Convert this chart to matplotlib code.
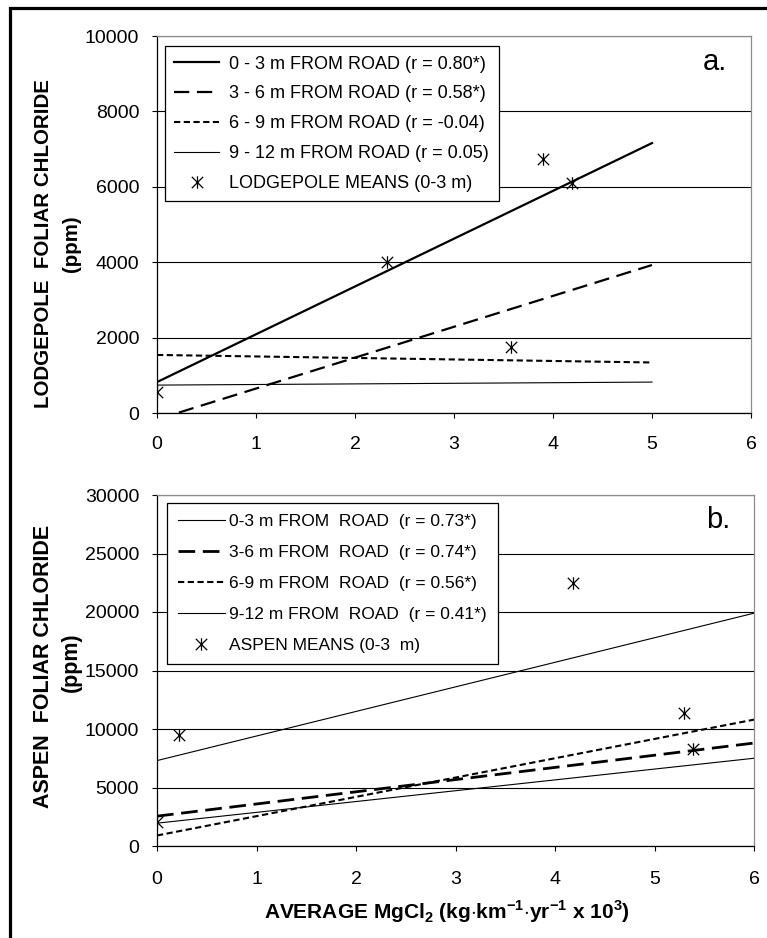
import matplotlib
matplotlib.use("Agg")
import matplotlib.pyplot as plt
from matplotlib.path import Path
from matplotlib.patches import Rectangle

plt.rcParams["font.family"] = ["Liberation Sans", "DejaVu Sans"]
plt.rcParams["mathtext.fontset"] = "custom"
plt.rcParams["mathtext.rm"] = "Liberation Sans"
plt.rcParams["mathtext.bf"] = "Liberation Sans:bold"
plt.rcParams["lines.scale_dashes"] = False
plt.rcParams["xtick.labelsize"] = 14
plt.rcParams["ytick.labelsize"] = 14

# ---- data ----
# panel a: lodgepole pine, trendline end points at x = 0 and x = 5
a_line_x = [0, 5]
a_03 = [820, 7160]
a_36 = [-170, 3925]
a_69 = [1540, 1340]
a_912 = [740, 820]
a_mean_x = [0, 2.32, 3.90, 4.19, 3.58]
a_mean_y = [560, 4000, 6740, 6110, 1740]
a_labels = ["0 - 3 m FROM ROAD (r = 0.80*)",
            "3 - 6 m FROM ROAD (r = 0.58*)",
            "6 - 9 m FROM ROAD (r = -0.04)",
            "9 - 12 m FROM ROAD (r = 0.05)",
            "LODGEPOLE MEANS (0-3 m)"]

# panel b: aspen, trendline end points at x = 0 and x = 6
b_line_x = [0, 6]
b_03 = [7300, 19900]
b_36 = [2550, 8800]
b_69 = [900, 10800]
b_912 = [1950, 7500]
b_mean_x = [0, 0.22, 4.18, 5.30, 5.39]
b_mean_y = [2050, 9450, 22450, 11400, 8250]
b_labels = ["0-3 m FROM  ROAD  (r = 0.73*)",
            "3-6 m FROM  ROAD  (r = 0.74*)",
            "6-9 m FROM  ROAD  (r = 0.56*)",
            "9-12 m FROM  ROAD  (r = 0.41*)",
            "ASPEN MEANS (0-3  m)"]

W, H = 767, 938
fig = plt.figure(figsize=(W / 100, H / 100), dpi=100)

# excel style star marker: X with a vertical bar
STAR = Path([(-1, -1), (1, 1), (-1, 1), (1, -1), (0, -1.1), (0, 1.1)],
            [Path.MOVETO, Path.LINETO, Path.MOVETO, Path.LINETO,
             Path.MOVETO, Path.LINETO])


def px_axes(x0, x1, y0, y1):
    return fig.add_axes([x0 / W, 1 - y1 / H, (x1 - x0) / W, (y1 - y0) / H])


def style_axes(ax, ymax, ystep, xpad):
    ax.set_xlim(0, 6)
    ax.set_ylim(0, ymax)
    ax.set_xticks(range(0, 7))
    ax.set_yticks(range(0, ymax + 1, ystep))
    ax.yaxis.grid(True, color="black", lw=0.8)
    ax.set_axisbelow(True)
    ax.tick_params(axis="both", direction="out", length=3.8, width=0.8,
                   labelsize=14, color="black")
    ax.tick_params(axis="y", pad=9)
    ax.tick_params(axis="x", pad=xpad)
    for s in ("left", "bottom"):
        ax.spines[s].set_color("black")
        ax.spines[s].set_linewidth(0.9)
    for s in ("top", "right"):
        ax.spines[s].set_color("#8c8c8c")
        ax.spines[s].set_linewidth(0.9)


# ---------------- panel a ----------------
ax1 = px_axes(157, 751, 36, 413)
style_axes(ax1, 10000, 2000, 13)
ax1.plot(a_line_x, a_03, color="black", lw=1.6, label=a_labels[0])
ax1.plot(a_line_x, a_36, color="black", lw=1.6, dashes=(11, 5.5), label=a_labels[1])
ax1.plot(a_line_x, a_69, color="black", lw=1.5, dashes=(4.5, 2.5), label=a_labels[2])
ax1.plot(a_line_x, a_912, color="black", lw=0.8, label=a_labels[3])
ax1.plot(a_mean_x, a_mean_y, ls="none", marker=STAR, ms=9, mew=0.9,
         color="black", label=a_labels[4], zorder=5)
leg1 = ax1.legend(loc="upper left", bbox_to_anchor=(0.0135, 0.973),
                  borderaxespad=0, fontsize=13, frameon=True, fancybox=False,
                  edgecolor="black", framealpha=1, handlelength=2.45,
                  handletextpad=0.6, labelspacing=0.71, borderpad=0.52)
leg1.get_frame().set_linewidth(0.9)
ax1.text(0.94, 0.93, "a.", transform=ax1.transAxes, fontsize=21,
         ha="center", va="center")

fig.text(44 / W, 1 - 244 / H, "LODGEPOLE  FOLIAR CHLORIDE", rotation=90,
         ha="center", va="center", fontsize=14.8, fontweight="bold")
fig.text(71 / W, 1 - 244 / H, "(ppm)", rotation=90,
         ha="center", va="center", fontsize=14.8, fontweight="bold")

# ---------------- panel b ----------------
ax2 = px_axes(157, 754, 495, 846)
style_axes(ax2, 30000, 5000, 14)
ax2.plot(b_line_x, b_03, color="black", lw=0.8, label=b_labels[0])
ax2.plot(b_line_x, b_36, color="black", lw=2.0, dashes=(12, 5.5), label=b_labels[1])
ax2.plot(b_line_x, b_69, color="black", lw=1.5, dashes=(4.5, 2.5), label=b_labels[2])
ax2.plot(b_line_x, b_912, color="black", lw=0.8, label=b_labels[3])
ax2.plot(b_mean_x, b_mean_y, ls="none", marker=STAR, ms=9, mew=0.9,
         color="black", label=b_labels[4], zorder=5)
leg2 = ax2.legend(loc="upper left", bbox_to_anchor=(0.017, 0.977),
                  borderaxespad=0, fontsize=12.5, frameon=True, fancybox=False,
                  edgecolor="black", framealpha=1, handlelength=2.7,
                  handletextpad=0.25, labelspacing=0.92, borderpad=0.62)
leg2.get_frame().set_linewidth(0.9)
ax2.text(0.94, 0.93, "b.", transform=ax2.transAxes, fontsize=21,
         ha="center", va="center")

fig.text(44 / W, 1 - 666 / H, "ASPEN  FOLIAR CHLORIDE", rotation=90,
         ha="center", va="center", fontsize=15.5, fontweight="bold")
fig.text(71 / W, 1 - 662 / H, "(ppm)", rotation=90,
         ha="center", va="center", fontsize=15.5, fontweight="bold")

fig.text(447 / W, 1 - 912 / H,
         r"AVERAGE MgCl$_\mathbf{2}$ (kg$\cdot$km$^\mathbf{-1}$$\cdot$yr$^\mathbf{-1}$ x 10$^\mathbf{3}$)",
         ha="center", va="center", fontsize=15, fontweight="bold")

# thick outer frame (left and top edges visible)
fig.add_artist(Rectangle((9.5 / W, -0.5), 2, 0.5 + 1 - 8.5 / H,
                         transform=fig.transFigure, fill=False, lw=2.3,
                         ec="black", clip_on=False))

fig.savefig("out.png", dpi=100)
